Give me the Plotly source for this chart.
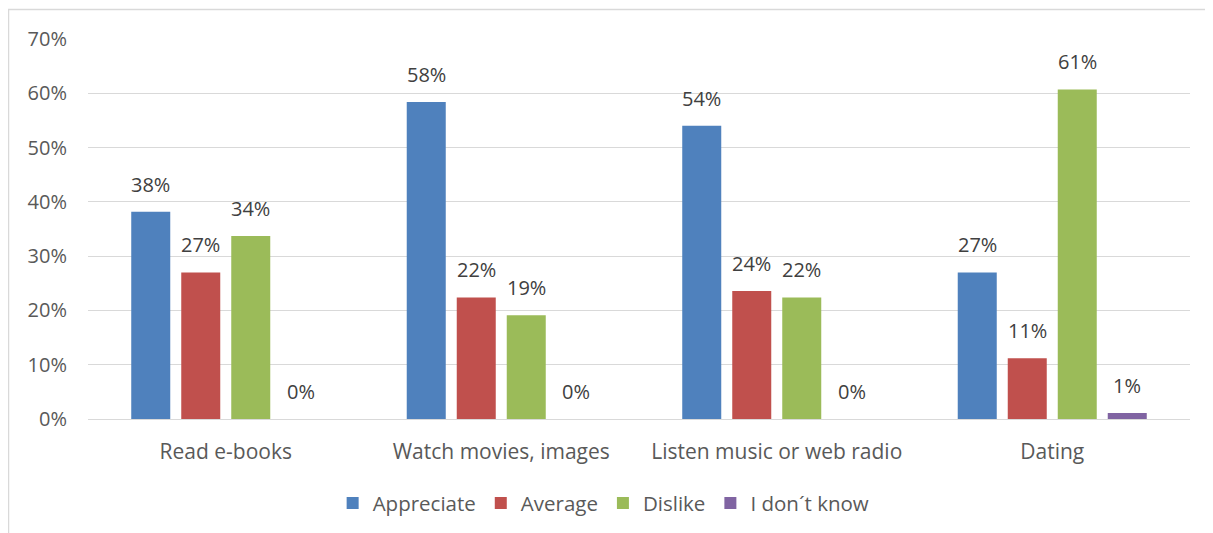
import plotly.graph_objects as go

categories = ["Read e-books", "Watch movies, images", "Listen music or web radio", "Dating"]
series_names = ["Appreciate", "Average", "Dislike", "I don´t know"]
appreciate = [0.382, 0.584, 0.540, 0.270]
average = [0.270, 0.224, 0.236, 0.112]
dislike = [0.337, 0.191, 0.224, 0.607]
dont_know = [0.0, 0.0, 0.0, 0.011]
colors = ["#4F81BD", "#C0504D", "#9BBB59", "#8064A2"]
y_ticks = [0, 0.1, 0.2, 0.3, 0.4, 0.5, 0.6, 0.7]

FONT = "Open Sans"
TXT = "#595959"
all_series = [appreciate, average, dislike, dont_know]

fig = go.Figure()
annotations = []
slot_px = 50
for i, (name, vals, col) in enumerate(zip(series_names, all_series, colors)):
    fig.add_trace(go.Bar(
        x=categories, y=vals, name=name, marker=dict(color=col, line=dict(width=0)),
    ))
    for c, v in zip(categories, vals):
        annotations.append(dict(
            x=c, y=v, xref="x", yref="y", text=f"{v:.0%}", showarrow=False,
            xanchor="center", yanchor="bottom", xshift=(i - 1.5) * slot_px, yshift=12,
            font=dict(family=FONT, size=20, color="#404040"),
        ))

fig.update_layout(
    width=1205, height=525,
    margin=dict(l=80, r=23, t=31, b=114),
    paper_bgcolor="white", plot_bgcolor="white",
    barmode="group", bargap=0.274, bargroupgap=0.22,
    font=dict(family=FONT, size=18, color=TXT),
    showlegend=True,
    legend=dict(orientation="h", x=0.222, xanchor="left",
                yref="container", y=0.057, yanchor="middle",
                font=dict(family=FONT, size=20.5, color=TXT), itemwidth=30,
                tracegroupgap=0),
    xaxis=dict(showgrid=False, showline=False, ticks="outside", ticklen=14, tickcolor="rgba(0,0,0,0)",
               tickfont=dict(family=FONT, size=21, color=TXT), automargin=False),
    yaxis=dict(range=[0, 0.7], tickvals=y_ticks, tickformat=".0%", showgrid=True,
               gridcolor="#D9D9D9", gridwidth=1.3, zeroline=True, zerolinecolor="#D9D9D9",
               zerolinewidth=1.3, showline=False, ticks="outside", ticklen=16,
               tickcolor="rgba(0,0,0,0)",
               tickfont=dict(family=FONT, size=20, color=TXT), automargin=False),
    annotations=annotations,
    shapes=[dict(type="rect", xref="paper", yref="paper",
                 x0=(8.5 - 88) / 1102, x1=1.2, y0=-0.5, y1=(419 - 9.5) / 380,
                 line=dict(color="#D9D9D9", width=1.5), fillcolor="rgba(0,0,0,0)", layer="below")],
)

fig.write_html("out.html")
